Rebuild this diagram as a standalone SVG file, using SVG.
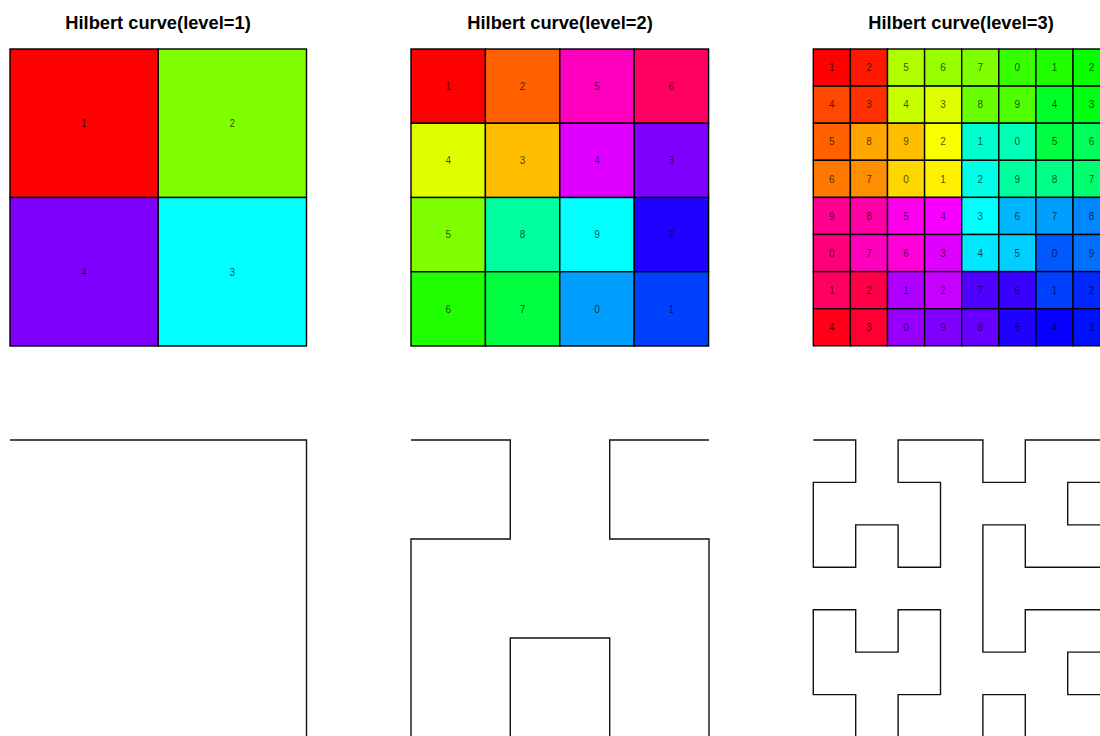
<svg xmlns="http://www.w3.org/2000/svg" width="1100" height="736" viewBox="0 0 1100 736">
<style>
.title{font-family:"Liberation Sans",Arial,sans-serif;font-weight:bold;font-size:18.3px;fill:#000;text-anchor:middle}
.c rect{stroke:#000;stroke-width:1.4}
.c text{font-family:"Liberation Sans",Arial,sans-serif;font-size:10px;fill:#000;fill-opacity:0.7;text-anchor:middle}
.curve{fill:none;stroke:#111;stroke-width:1.4;stroke-linejoin:miter}
</style>
<rect x="0" y="0" width="1100" height="736" fill="#fff"/>
<text class="title" x="158" y="29">Hilbert curve(level=1)</text>
<text class="title" x="560" y="29">Hilbert curve(level=2)</text>
<text class="title" x="961" y="29">Hilbert curve(level=3)</text>

<g id="grid1" class="c">
<rect x="10" y="49" width="148.25" height="148.5" fill="#FF0000"/>
<rect x="158.25" y="49" width="148.25" height="148.5" fill="#80FF00"/>
<rect x="10" y="197.5" width="148.25" height="148.5" fill="#8000FF"/>
<rect x="158.25" y="197.5" width="148.25" height="148.5" fill="#00FFFF"/>
<text x="84.1" y="127">1</text><text x="232.4" y="127">2</text>
<text x="84.1" y="275.5">4</text><text x="232.4" y="275.5">3</text>
</g>

<g id="grid2" class="c">
<rect x="411" y="49" width="74.4" height="74.25" fill="#FF0000"/>
<rect x="485.4" y="49" width="74.4" height="74.25" fill="#FF6000"/>
<rect x="559.8" y="49" width="74.4" height="74.25" fill="#FF00BF"/>
<rect x="634.2" y="49" width="74.4" height="74.25" fill="#FF0060"/>
<rect x="411" y="123.25" width="74.4" height="74.25" fill="#DFFF00"/>
<rect x="485.4" y="123.25" width="74.4" height="74.25" fill="#FFBF00"/>
<rect x="559.8" y="123.25" width="74.4" height="74.25" fill="#DF00FF"/>
<rect x="634.2" y="123.25" width="74.4" height="74.25" fill="#8000FF"/>
<rect x="411" y="197.5" width="74.4" height="74.25" fill="#80FF00"/>
<rect x="485.4" y="197.5" width="74.4" height="74.25" fill="#00FF9F"/>
<rect x="559.8" y="197.5" width="74.4" height="74.25" fill="#00FFFF"/>
<rect x="634.2" y="197.5" width="74.4" height="74.25" fill="#2000FF"/>
<rect x="411" y="271.75" width="74.4" height="74.25" fill="#20FF00"/>
<rect x="485.4" y="271.75" width="74.4" height="74.25" fill="#00FF40"/>
<rect x="559.8" y="271.75" width="74.4" height="74.25" fill="#009FFF"/>
<rect x="634.2" y="271.75" width="74.4" height="74.25" fill="#0040FF"/>
<text x="448.2" y="89.7">1</text><text x="522.6" y="89.7">2</text><text x="597" y="89.7">5</text><text x="671.4" y="89.7">6</text>
<text x="448.2" y="164">4</text><text x="522.6" y="164">3</text><text x="597" y="164">4</text><text x="671.4" y="164">3</text>
<text x="448.2" y="238.2">5</text><text x="522.6" y="238.2">8</text><text x="597" y="238.2">9</text><text x="671.4" y="238.2">2</text>
<text x="448.2" y="312.5">6</text><text x="522.6" y="312.5">7</text><text x="597" y="312.5">0</text><text x="671.4" y="312.5">1</text>
</g>

<g id="grid3" class="c">
<rect x="813.3" y="49" width="37.1" height="37.1" fill="#FF0000"/>
<rect x="850.4" y="49" width="37.1" height="37.1" fill="#FF1800"/>
<rect x="887.5" y="49" width="37.1" height="37.1" fill="#AFFF00"/>
<rect x="924.6" y="49" width="37.1" height="37.1" fill="#97FF00"/>
<rect x="961.7" y="49" width="37.1" height="37.1" fill="#80FF00"/>
<rect x="998.8" y="49" width="37.1" height="37.1" fill="#38FF00"/>
<rect x="1035.9" y="49" width="37.1" height="37.1" fill="#20FF00"/>
<rect x="1073" y="49" width="37.1" height="37.1" fill="#08FF00"/>

<rect x="813.3" y="86.1" width="37.1" height="37.1" fill="#FF4800"/>
<rect x="850.4" y="86.1" width="37.1" height="37.1" fill="#FF3000"/>
<rect x="887.5" y="86.1" width="37.1" height="37.1" fill="#C7FF00"/>
<rect x="924.6" y="86.1" width="37.1" height="37.1" fill="#DFFF00"/>
<rect x="961.7" y="86.1" width="37.1" height="37.1" fill="#68FF00"/>
<rect x="998.8" y="86.1" width="37.1" height="37.1" fill="#50FF00"/>
<rect x="1035.9" y="86.1" width="37.1" height="37.1" fill="#00FF28"/>
<rect x="1073" y="86.1" width="37.1" height="37.1" fill="#00FF10"/>

<rect x="813.3" y="123.2" width="37.1" height="37.1" fill="#FF6000"/>
<rect x="850.4" y="123.2" width="37.1" height="37.1" fill="#FFA700"/>
<rect x="887.5" y="123.2" width="37.1" height="37.1" fill="#FFBF00"/>
<rect x="924.6" y="123.2" width="37.1" height="37.1" fill="#F7FF00"/>
<rect x="961.7" y="123.2" width="37.1" height="37.1" fill="#00FFCF"/>
<rect x="998.8" y="123.2" width="37.1" height="37.1" fill="#00FFB7"/>
<rect x="1035.9" y="123.2" width="37.1" height="37.1" fill="#00FF40"/>
<rect x="1073" y="123.2" width="37.1" height="37.1" fill="#00FF58"/>

<rect x="813.3" y="160.3" width="37.1" height="37.1" fill="#FF7800"/>
<rect x="850.4" y="160.3" width="37.1" height="37.1" fill="#FF8F00"/>
<rect x="887.5" y="160.3" width="37.1" height="37.1" fill="#FFD700"/>
<rect x="924.6" y="160.3" width="37.1" height="37.1" fill="#FFEF00"/>
<rect x="961.7" y="160.3" width="37.1" height="37.1" fill="#00FFE7"/>
<rect x="998.8" y="160.3" width="37.1" height="37.1" fill="#00FF9F"/>
<rect x="1035.9" y="160.3" width="37.1" height="37.1" fill="#00FF87"/>
<rect x="1073" y="160.3" width="37.1" height="37.1" fill="#00FF70"/>

<rect x="813.3" y="197.4" width="37.1" height="37.1" fill="#FF008F"/>
<rect x="850.4" y="197.4" width="37.1" height="37.1" fill="#FF00A7"/>
<rect x="887.5" y="197.4" width="37.1" height="37.1" fill="#FF00EF"/>
<rect x="924.6" y="197.4" width="37.1" height="37.1" fill="#F700FF"/>
<rect x="961.7" y="197.4" width="37.1" height="37.1" fill="#00FFFF"/>
<rect x="998.8" y="197.4" width="37.1" height="37.1" fill="#00B7FF"/>
<rect x="1035.9" y="197.4" width="37.1" height="37.1" fill="#009FFF"/>
<rect x="1073" y="197.4" width="37.1" height="37.1" fill="#0087FF"/>

<rect x="813.3" y="234.5" width="37.1" height="37.1" fill="#FF0078"/>
<rect x="850.4" y="234.5" width="37.1" height="37.1" fill="#FF00BF"/>
<rect x="887.5" y="234.5" width="37.1" height="37.1" fill="#FF00D7"/>
<rect x="924.6" y="234.5" width="37.1" height="37.1" fill="#DF00FF"/>
<rect x="961.7" y="234.5" width="37.1" height="37.1" fill="#00E7FF"/>
<rect x="998.8" y="234.5" width="37.1" height="37.1" fill="#00CFFF"/>
<rect x="1035.9" y="234.5" width="37.1" height="37.1" fill="#0058FF"/>
<rect x="1073" y="234.5" width="37.1" height="37.1" fill="#0070FF"/>

<rect x="813.3" y="271.6" width="37.1" height="37.1" fill="#FF0060"/>
<rect x="850.4" y="271.6" width="37.1" height="37.1" fill="#FF0048"/>
<rect x="887.5" y="271.6" width="37.1" height="37.1" fill="#AF00FF"/>
<rect x="924.6" y="271.6" width="37.1" height="37.1" fill="#C700FF"/>
<rect x="961.7" y="271.6" width="37.1" height="37.1" fill="#5000FF"/>
<rect x="998.8" y="271.6" width="37.1" height="37.1" fill="#3800FF"/>
<rect x="1035.9" y="271.6" width="37.1" height="37.1" fill="#0040FF"/>
<rect x="1073" y="271.6" width="37.1" height="37.1" fill="#0028FF"/>

<rect x="813.3" y="308.7" width="37.1" height="37.1" fill="#FF0018"/>
<rect x="850.4" y="308.7" width="37.1" height="37.1" fill="#FF0030"/>
<rect x="887.5" y="308.7" width="37.1" height="37.1" fill="#9700FF"/>
<rect x="924.6" y="308.7" width="37.1" height="37.1" fill="#8000FF"/>
<rect x="961.7" y="308.7" width="37.1" height="37.1" fill="#6800FF"/>
<rect x="998.8" y="308.7" width="37.1" height="37.1" fill="#2000FF"/>
<rect x="1035.9" y="308.7" width="37.1" height="37.1" fill="#0800FF"/>
<rect x="1073" y="308.7" width="37.1" height="37.1" fill="#0010FF"/>

<text x="831.85" y="71.2">1</text><text x="868.95" y="71.2">2</text><text x="906.05" y="71.2">5</text><text x="943.15" y="71.2">6</text><text x="980.25" y="71.2">7</text><text x="1017.35" y="71.2">0</text><text x="1054.45" y="71.2">1</text><text x="1091.55" y="71.2">2</text>
<text x="831.85" y="108.3">4</text><text x="868.95" y="108.3">3</text><text x="906.05" y="108.3">4</text><text x="943.15" y="108.3">3</text><text x="980.25" y="108.3">8</text><text x="1017.35" y="108.3">9</text><text x="1054.45" y="108.3">4</text><text x="1091.55" y="108.3">3</text>
<text x="831.85" y="145.4">5</text><text x="868.95" y="145.4">8</text><text x="906.05" y="145.4">9</text><text x="943.15" y="145.4">2</text><text x="980.25" y="145.4">1</text><text x="1017.35" y="145.4">0</text><text x="1054.45" y="145.4">5</text><text x="1091.55" y="145.4">6</text>
<text x="831.85" y="182.5">6</text><text x="868.95" y="182.5">7</text><text x="906.05" y="182.5">0</text><text x="943.15" y="182.5">1</text><text x="980.25" y="182.5">2</text><text x="1017.35" y="182.5">9</text><text x="1054.45" y="182.5">8</text><text x="1091.55" y="182.5">7</text>
<text x="831.85" y="219.6">9</text><text x="868.95" y="219.6">8</text><text x="906.05" y="219.6">5</text><text x="943.15" y="219.6">4</text><text x="980.25" y="219.6">3</text><text x="1017.35" y="219.6">6</text><text x="1054.45" y="219.6">7</text><text x="1091.55" y="219.6">8</text>
<text x="831.85" y="256.7">0</text><text x="868.95" y="256.7">7</text><text x="906.05" y="256.7">6</text><text x="943.15" y="256.7">3</text><text x="980.25" y="256.7">4</text><text x="1017.35" y="256.7">5</text><text x="1054.45" y="256.7">0</text><text x="1091.55" y="256.7">9</text>
<text x="831.85" y="293.8">1</text><text x="868.95" y="293.8">2</text><text x="906.05" y="293.8">1</text><text x="943.15" y="293.8">2</text><text x="980.25" y="293.8">7</text><text x="1017.35" y="293.8">6</text><text x="1054.45" y="293.8">1</text><text x="1091.55" y="293.8">2</text>
<text x="831.85" y="330.9">4</text><text x="868.95" y="330.9">3</text><text x="906.05" y="330.9">0</text><text x="943.15" y="330.9">9</text><text x="980.25" y="330.9">8</text><text x="1017.35" y="330.9">5</text><text x="1054.45" y="330.9">4</text><text x="1091.55" y="330.9">3</text>
</g>

<g id="curves">
<path id="curve1" class="curve" d="M10,440 H306.5 V737 H10"/>
<path id="curve2" class="curve" d="M411,440 H510.3 V539 H411 V737 H510.3 V638 H609.7 V737 H709 V539 H609.7 V440 H709"/>
<path id="curve3" class="curve" d="M813.3,440 H855.7 V482.4 H813.3 V567.3 H855.7 V524.9 H898.1 V567.3 H940.5 V482.4 H898.1 V440 H982.9 V482.4 H1025.3 V440 H1110.1 V482.4 H1067.7 V524.9 H1110.1 V567.3 H1025.3 V524.9 H982.9 V652.1 H1025.3 V609.7 H1110.1 V652.1 H1067.7 V694.6 H1110.1 V737 H1025.3 V694.6 H982.9 V737 H898.1 V694.6 H940.5 V609.7 H898.1 V652.1 H855.7 V609.7 H813.3 V694.6 H855.7 V737 H813.3"/>
</g>
</svg>
